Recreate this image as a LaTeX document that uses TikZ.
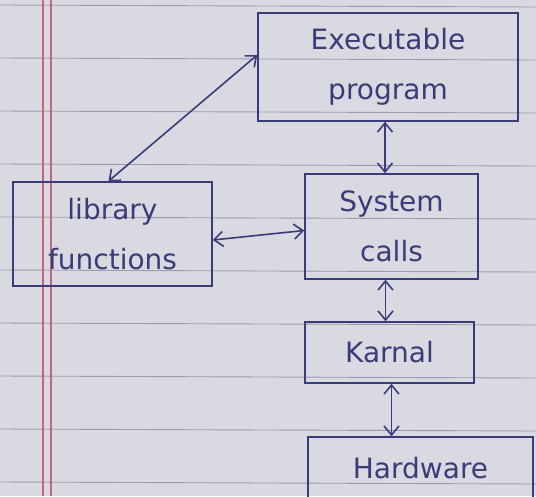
\documentclass[tikz,border=0pt]{standalone}
\usepackage{fontspec}
\setmainfont{DejaVu Sans}
\usetikzlibrary{arrows.meta,calc}
\definecolor{paper}{HTML}{D8D9E1}
\definecolor{rule}{HTML}{9A9CAE}
\definecolor{margin}{HTML}{C06878}
\definecolor{ink}{HTML}{3C3B7A}
\tikzset{
  box/.style={draw=ink, line width=1.6pt, text=ink, align=center, inner sep=2pt,
    font=\fontsize{28}{50}\selectfont},
  link/.style={draw=ink, line width=1.6pt, {Straight Barb[length=9pt,width=15pt]}-{Straight Barb[length=9pt,width=15pt]}},
  paperline/.style={draw=rule, line width=0.9pt},
  marginline/.style={draw=margin, line width=1.3pt}
}
\begin{document}
\begin{tikzpicture}[x=1pt,y=-1pt]
\useasboundingbox (0,0) rectangle (536,496);
\fill[paper] (0,0) rectangle (536,496);
\foreach \yy in {5,58,111,164,217,270,323,376,429,482}
  \draw[paperline] (0,\yy) -- (536,\yy+2);
\draw[marginline] (43,0) -- (43,496);
\draw[marginline] (51,0) -- (51,496);
\begin{scope}
\clip (0,0) rectangle (536,496);
\node[box, minimum width=260pt, minimum height=108pt] (exec) at (388,67) {Executable\\program};
\node[box, minimum width=199pt, minimum height=104pt] (lib) at (112.5,234) {library\\functions};
\node[box, minimum width=173pt, minimum height=105pt] (sys) at (391.5,226.5) {System\\calls};
\node[box, minimum width=169pt, minimum height=61pt] (kern) at (389.5,352.5) {Karnal};
\node[box, minimum width=225pt, minimum height=62pt] (hard) at (420.5,468) {Hardware};
\end{scope}
\draw[link] ([yshift=12pt]exec.west) -- ([xshift=-4pt]lib.north);
\draw[link] ([xshift=-3pt]exec.south) -- ([xshift=-3pt]exec.south |- sys.north);
\draw[link] ([yshift=-6pt]lib.east) -- ([yshift=-4pt]sys.west);
\draw[link] ([xshift=-6pt]sys.south) -- ([xshift=-6pt]sys.south |- kern.north);
\draw[link] ([xshift=2pt]kern.south) -- ([xshift=2pt]kern.south |- hard.north);
\end{tikzpicture}
\end{document}
